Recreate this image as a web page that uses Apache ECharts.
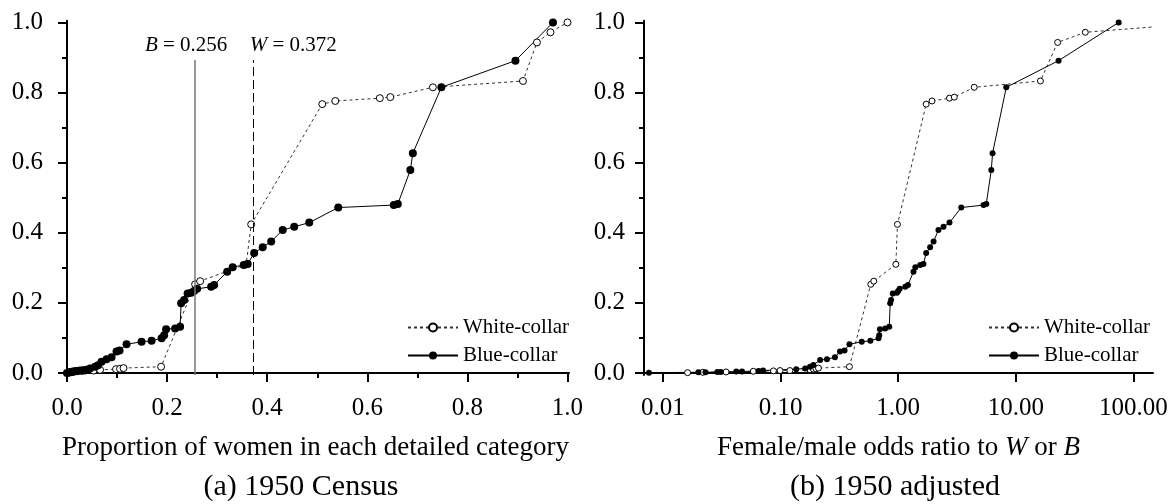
<!DOCTYPE html>
<html><head><meta charset="utf-8">
<script src="https://cdn.jsdelivr.net/npm/echarts@6/dist/echarts.min.js"></script>
<style>html,body{margin:0;padding:0;background:#fff}#c{width:1176px;height:504px}</style>
</head><body><div id="c"></div><script>
// ---- data ----
const yTicks = [0, 0.2, 0.4, 0.6, 0.8, 1.0];
const yMinor = [0.1, 0.3, 0.5, 0.7, 0.9];
const xTicksA = [0, 0.2, 0.4, 0.6, 0.8, 1.0];
const xMinorA = [0.1, 0.3, 0.5, 0.7, 0.9];
const xTicksB = [0.01, 0.1, 1, 10, 100];
const meanB = 0.256;
const meanW = 0.372;

// (a) 1950 Census: proportion of women vs cumulative share
const whiteX_a = [0.004,0.008,0.012,0.020,0.030,0.036,0.053,0.066,0.098,0.106,0.113,0.188,0.256,0.266,0.358,0.368,0.51,0.536,0.625,0.646,0.731,0.911,0.939,0.966,1.0];
const whiteY_a = [0.001,0.002,0.003,0.005,0.006,0.007,0.007,0.009,0.011,0.012,0.014,0.018,0.253,0.262,0.310,0.424,0.767,0.776,0.784,0.787,0.815,0.833,0.943,0.972,1.0];
const blueX_a = [0.000,0.004,0.008,0.012,0.016,0.020,0.026,0.032,0.039,0.046,0.056,0.062,0.069,0.079,0.089,0.099,0.105,0.119,0.149,0.169,0.189,0.194,0.198,0.216,0.226,0.228,0.234,0.241,0.248,0.254,0.260,0.288,0.294,0.320,0.331,0.353,0.361,0.374,0.391,0.408,0.431,0.454,0.484,0.542,0.653,0.661,0.686,0.691,0.748,0.896,0.971];
const blueY_a = [0.000,0.002,0.003,0.004,0.005,0.006,0.007,0.008,0.009,0.013,0.018,0.022,0.032,0.039,0.045,0.061,0.064,0.082,0.089,0.092,0.099,0.108,0.125,0.127,0.132,0.199,0.208,0.227,0.229,0.234,0.240,0.246,0.251,0.289,0.302,0.308,0.311,0.342,0.359,0.375,0.408,0.417,0.429,0.472,0.479,0.482,0.579,0.627,0.815,0.891,1.000];

// (b) 1950 adjusted: female/male odds ratio vs cumulative share
const whiteX_b = [0.0162,0.0218,0.0344,0.0587,0.087,0.099,0.12,0.178,0.19,0.20,0.21,0.385,0.585,0.62,0.956,0.986,1.73,1.94,2.73,3.0,4.43,16.2,22.7,39.0,450];
const whiteY_b = [0.001,0.002,0.003,0.005,0.006,0.007,0.007,0.009,0.011,0.012,0.014,0.018,0.253,0.262,0.310,0.424,0.767,0.776,0.784,0.787,0.815,0.833,0.943,0.972,1.0];
const blueX_b = [0.0076,0.020,0.023,0.029,0.031,0.042,0.047,0.065,0.071,0.136,0.162,0.178,0.19,0.217,0.248,0.29,0.32,0.35,0.385,0.49,0.58,0.68,0.69,0.70,0.775,0.84,0.855,0.87,0.90,0.975,1.0,1.03,1.15,1.21,1.35,1.40,1.54,1.64,1.73,1.87,2.0,2.2,2.43,2.73,3.44,5.32,5.61,6.19,6.35,8.3,23.1,75];
const blueY_b = [0.001,0.002,0.002,0.003,0.003,0.004,0.004,0.006,0.007,0.011,0.013,0.018,0.023,0.037,0.039,0.045,0.061,0.064,0.082,0.089,0.092,0.099,0.108,0.125,0.127,0.132,0.199,0.208,0.227,0.229,0.234,0.240,0.246,0.251,0.289,0.302,0.308,0.311,0.342,0.359,0.375,0.408,0.417,0.429,0.472,0.479,0.482,0.579,0.627,0.815,0.891,1.0];

const seriesNames = ['White-collar', 'Blue-collar'];
const xNameA = 'Proportion of women in each detailed category';
const xNameB = 'Female/male odds ratio to {i|W} or {i|B}';
const captionA = '(a) 1950 Census';
const captionB = '(b) 1950 adjusted';

// ---- chart ----
const FONT = 'Liberation Serif';
const zip = (xs, ys) => xs.map((x, i) => [x, ys[i]]);
const YMIN = -0.0057, YMAX = 1.005;

function yAxes(grid) {
  return [
    { gridIndex: grid, type: 'value', min: YMIN, max: YMAX,
      axisLine: { show: true, lineStyle: { color: '#000', width: 2 } },
      axisTick: { show: true, customValues: yTicks, length: 9, lineStyle: { color: '#000', width: 2 } },
      axisLabel: { customValues: yTicks, formatter: v => v.toFixed(1), fontFamily: FONT, fontSize: 25, color: '#000', margin: 19 },
      splitLine: { show: false } },
    { gridIndex: grid, type: 'value', min: YMIN, max: YMAX, position: 'left',
      axisLine: { show: false },
      axisTick: { show: true, customValues: yMinor, length: 5, lineStyle: { color: '#000', width: 2 } },
      axisLabel: { show: false }, splitLine: { show: false } }
  ];
}

const chart = echarts.init(document.getElementById('c'), null, { renderer: 'canvas' });
chart.setOption({
  animation: false,
  backgroundColor: '#fff',
  textStyle: { fontFamily: FONT, color: '#000' },
  title: [
    { text: captionA, left: 296, top: 467, textAlign: 'center',
      textStyle: { fontFamily: FONT, fontWeight: 'normal', fontSize: 30, color: '#000' } },
    { text: captionB, left: 890, top: 467, textAlign: 'center',
      textStyle: { fontFamily: FONT, fontWeight: 'normal', fontSize: 30, color: '#000' } }
  ],
  grid: [
    { left: 62, top: 20.7, width: 507, height: 354.3 },
    { left: 644, top: 20.7, width: 509, height: 354.3 }
  ],
  legend: [
    { orient: 'vertical', left: 407, top: 317, itemWidth: 50, itemHeight: 10, itemGap: 7, padding: 0,
      data: seriesNames, textStyle: { fontFamily: FONT, fontSize: 21, color: '#000', lineHeight: 21 } },
    { orient: 'vertical', left: 988, top: 317, itemWidth: 50, itemHeight: 10, itemGap: 7, padding: 0,
      data: seriesNames, textStyle: { fontFamily: FONT, fontSize: 21, color: '#000', lineHeight: 21 } }
  ],
  xAxis: [
    { gridIndex: 0, type: 'value', min: -0.01, max: 1.003, position: 'bottom',
      name: xNameA, nameLocation: 'middle', nameGap: 59,
      nameTextStyle: { fontFamily: FONT, fontSize: 27, color: '#000' },
      axisLine: { show: true, lineStyle: { color: '#000', width: 2 } },
      axisTick: { show: true, customValues: xTicksA, length: 9, lineStyle: { color: '#000', width: 2 } },
      axisLabel: { customValues: xTicksA, formatter: v => v.toFixed(1), fontFamily: FONT, fontSize: 25, color: '#000', margin: 21 },
      splitLine: { show: false } },
    { gridIndex: 0, type: 'value', min: -0.01, max: 1.003, position: 'bottom',
      axisLine: { show: false },
      axisTick: { show: true, customValues: xMinorA, length: 5, lineStyle: { color: '#000', width: 2 } },
      axisLabel: { show: false }, splitLine: { show: false } },
    { gridIndex: 1, type: 'log', logBase: 10, min: 0.0069, max: 146.8, position: 'bottom',
      name: xNameB, nameLocation: 'middle', nameGap: 59,
      nameTextStyle: { fontFamily: FONT, fontSize: 27, color: '#000',
        rich: { i: { fontFamily: FONT, fontSize: 27, fontStyle: 'italic', color: '#000' } } },
      axisLine: { show: true, lineStyle: { color: '#000', width: 2 } },
      axisTick: { show: true, customValues: xTicksB, length: 9, lineStyle: { color: '#000', width: 2 } },
      axisLabel: { customValues: xTicksB, formatter: v => Number(v).toFixed(2), fontFamily: FONT, fontSize: 25, color: '#000', margin: 21 },
      splitLine: { show: false }, minorTick: { show: false } }
  ],
  yAxis: [].concat(yAxes(0), yAxes(1)),
  series: [
    { name: seriesNames[0], type: 'line', xAxisIndex: 0, yAxisIndex: 0, data: zip(whiteX_a, whiteY_a),
      symbol: 'circle', symbolSize: 7, showAllSymbol: true,
      itemStyle: { color: '#fff', borderColor: '#000', borderWidth: 1 },
      lineStyle: { color: '#333', width: 1, type: [3, 3] } },
    { name: seriesNames[1], type: 'line', xAxisIndex: 0, yAxisIndex: 0, data: zip(blueX_a, blueY_a),
      symbol: 'circle', symbolSize: 8, showAllSymbol: true,
      itemStyle: { color: '#000', borderColor: '#000', borderWidth: 0 },
      lineStyle: { color: '#000', width: 1, type: 'solid' },
      markLine: {
        silent: true, symbol: ['none', 'none'], animation: false,
        label: { show: true, position: 'end', distance: 4, fontFamily: FONT, fontSize: 21, color: '#000',
          rich: { i: { fontFamily: FONT, fontSize: 21, fontStyle: 'italic', color: '#000' } } },
        data: [
          [ { coord: [meanB, YMIN], lineStyle: { color: '#777', width: 1.5, type: 'solid' },
              label: { formatter: '{i|B} = ' + meanB.toFixed(3), padding: [0, 18, 0, 0] } },
            { coord: [meanB, 0.893] } ],
          [ { coord: [meanW, YMIN], lineStyle: { color: '#000', width: 1, type: [9, 4] },
              label: { formatter: '{i|W} = ' + meanW.toFixed(3), padding: [0, 0, 0, 80] } },
            { coord: [meanW, 0.893] } ]
        ]
      } },
    { name: seriesNames[0], type: 'line', xAxisIndex: 2, yAxisIndex: 2, data: zip(whiteX_b, whiteY_b),
      symbol: 'circle', symbolSize: 6, showAllSymbol: true, clip: true,
      itemStyle: { color: '#fff', borderColor: '#000', borderWidth: 1 },
      lineStyle: { color: '#333', width: 1, type: [3, 3] } },
    { name: seriesNames[1], type: 'line', xAxisIndex: 2, yAxisIndex: 2, data: zip(blueX_b, blueY_b),
      symbol: 'circle', symbolSize: 6, showAllSymbol: true, clip: true,
      itemStyle: { color: '#000', borderColor: '#000', borderWidth: 0 },
      lineStyle: { color: '#000', width: 1, type: 'solid' } }
  ]
});
</script></body></html>
